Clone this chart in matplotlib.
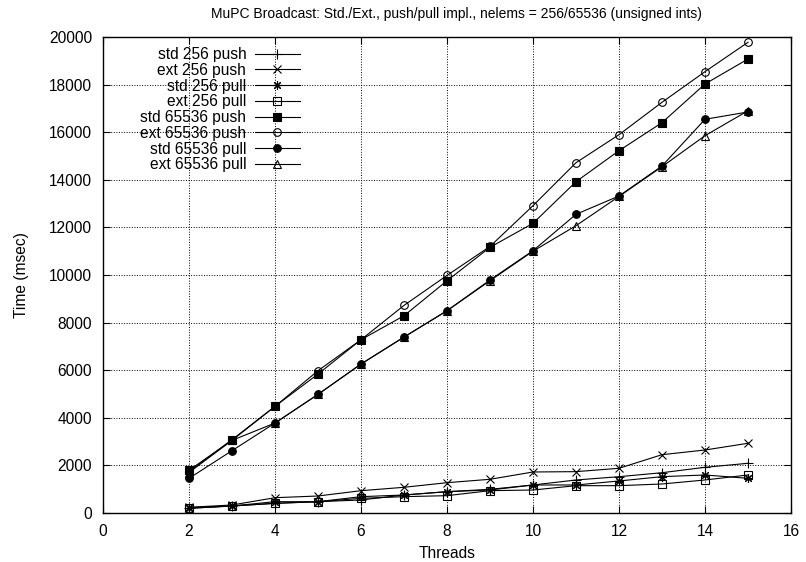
import matplotlib
matplotlib.use('Agg')
import matplotlib.pyplot as plt

plt.rcParams['font.family'] = ['Liberation Sans', 'DejaVu Sans']
plt.rcParams['font.size'] = 11

threads = [2, 3, 4, 5, 6, 7, 8, 9, 10, 11, 12, 13, 14, 15]

std_256_push = [197, 294, 406, 475, 546, 756, 896, 995, 1177, 1387, 1525, 1693, 1920, 2088]
ext_256_push = [240, 336, 643, 714, 937, 1080, 1273, 1416, 1723, 1737, 1878, 2450, 2647, 2929]
std_256_pull = [197, 294, 475, 475, 686, 756, 896, 966, 1177, 1177, 1345, 1527, 1597, 1457]
ext_256_pull = [225, 294, 406, 475, 616, 686, 728, 938, 966, 1148, 1148, 1219, 1387, 1597]
std_65536_push = [1792, 3052, 4480, 5838, 7280, 8288, 9758, 11163, 12171, 13920, 15223, 16400, 18025, 19075]
ext_65536_push = [1750, 3080, 4480, 5978, 7280, 8722, 9982, 11200, 12912, 14718, 15895, 17256, 18543, 19777]
std_65536_pull = [1456, 2618, 3780, 4984, 6258, 7392, 8498, 9790, 11021, 12550, 13319, 14579, 16542, 16849]
ext_65536_pull = [1700, 3052, 3780, 4984, 6258, 7392, 8498, 9760, 11000, 12071, 13300, 14550, 15853, 16900]

series = [
    ('std 256 push', std_256_push, dict(marker='+', ms=7)),
    ('ext 256 push', ext_256_push, dict(marker='x', ms=5.5)),
    ('std 256 pull', std_256_pull, dict(marker=(8, 2, 0), ms=6.5)),
    ('ext 256 pull', ext_256_pull, dict(marker='s', ms=5.5, mfc='none')),
    ('std 65536 push', std_65536_push, dict(marker='s', ms=6.2)),
    ('ext 65536 push', ext_65536_push, dict(marker='o', ms=5.5, mfc='none')),
    ('std 65536 pull', std_65536_pull, dict(marker='o', ms=5.5)),
    ('ext 65536 pull', ext_65536_pull, dict(marker='^', ms=5.5, mfc='none')),
]

fig = plt.figure(figsize=(8.06, 5.62), dpi=100)
ax = fig.add_axes([0.1278, 0.0872, 0.8536, 0.847])

for name, vals, style in series:
    ax.plot(threads, vals, color='black', lw=0.8, mec='black', mew=0.8,
            label=name, **style)

ax.set_xlim(0, 16)
ax.set_ylim(0, 20000)
ax.set_xticks(range(0, 17, 2))
ax.set_yticks(range(0, 20001, 2000))
ax.tick_params(direction='in', top=True, right=True, length=5, labelsize=11.2, pad=8)
ax.grid(True, color='black', linestyle=':', linewidth=0.7)
for s in ax.spines.values():
    s.set_linewidth(1.0)

ax.set_xlabel('Threads', fontsize=11.2, labelpad=5)
ax.set_ylabel('Time (msec)', fontsize=11.2, labelpad=14)
ax.set_title('MuPC Broadcast: Std./Ext., push/pull impl., nelems = 256/65536 (unsigned ints)',
             fontsize=10, pad=13.5, x=0.513)

ax.legend(loc='upper right', frameon=False, markerfirst=False, fontsize=11.2,
          handlelength=2.9, handletextpad=0.55, labelspacing=0.05,
          borderpad=0, borderaxespad=0, bbox_to_anchor=(0.2863, 0.979))

fig.savefig('out.png', dpi=100)
